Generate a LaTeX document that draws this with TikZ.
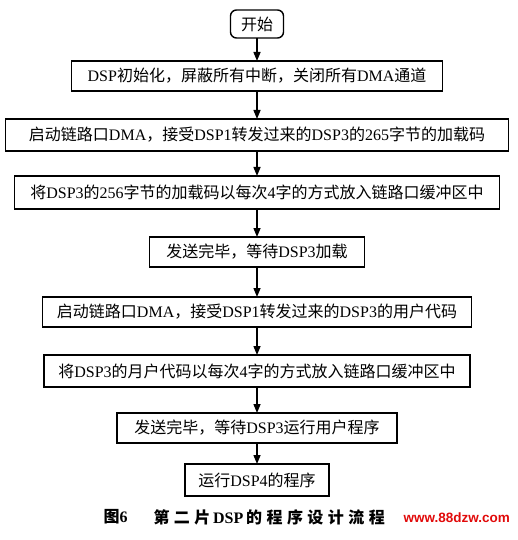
\documentclass[tikz,border=0pt]{standalone}
\usepackage{fontspec}
\setmainfont{Noto Sans CJK SC}
\newfontfamily\romfont{Liberation Serif}
\newfontfamily\capfont[LetterSpace=28]{Noto Sans CJK SC}
\newfontfamily\markfont{Liberation Sans}
\usetikzlibrary{positioning,arrows.meta}
\definecolor{markred}{RGB}{225,10,10}
\newcommand{\en}[1]{{\romfont #1}}
\tikzset{
  stepbox/.style={draw,line width=1.4pt,outer sep=0pt,minimum height=30pt,inner sep=0pt,font=\fontsize{16}{16}\selectfont},
  startbox/.style={stepbox,rounded corners=6pt},
  ar/.style={-{Triangle[length=9pt,width=7pt]},line width=1.4pt},
}
\begin{document}
\begin{tikzpicture}[x=1pt,y=-1pt]
  \useasboundingbox (0,0) rectangle (517,540);
  \node[startbox,minimum width=53pt,minimum height=28pt] (start) at (257,24) {开始};
  \node[stepbox,minimum width=371pt,below=23pt of start] (init) {\en{DSP}初始化，屏蔽所有中断，关闭所有\en{DMA}通道};
  \node[stepbox,minimum width=503pt,minimum height=32pt,below=28pt of init] (recvload) {启动链路口\en{DMA}，接受\en{DSP1}转发过来的\en{DSP3}的\en{265}字节的加载码};
  \node[stepbox,minimum width=485pt,minimum height=33pt,below=25pt of recvload] (putload) {将\en{DSP3}的\en{256}字节的加载码以每次\en{4}字的方式放入链路口缓冲区中};
  \node[stepbox,minimum width=215pt,below=28pt of putload] (waitload) {发送完毕，等待\en{DSP3}加载};
  \node[stepbox,minimum width=429pt,below=30pt of waitload] (recvuser) {启动链路口\en{DMA}，接受\en{DSP1}转发过来的\en{DSP3}的用户代码};
  \node[stepbox,minimum width=426pt,minimum height=32pt,below=28pt of recvuser] (putuser) {将\en{DSP3}的月户代码以每次\en{4}字的方式放入链路口缓冲区中};
  \node[stepbox,minimum width=280pt,below=26pt of putuser] (waitrun) {发送完毕，等待\en{DSP3}运行用户程序};
  \node[stepbox,minimum width=144pt,minimum height=32pt,below=21pt of waitrun] (rundsp) {运行\en{DSP4}的程序};
  % arrows
  \foreach \a/\b in {start/init,init/recvload,recvload/putload,putload/waitload,
                     waitload/recvuser,recvuser/putuser,putuser/waitrun,waitrun/rundsp}
    \draw[ar] (\a) -- (\b);
  % caption
  \node[anchor=west,font=\fontsize{16}{16}\selectfont\bfseries] (fignum) at (100,517) {图\en{\bfseries 6}};
  \node[anchor=west,font=\fontsize{16}{16}\selectfont\bfseries] (caption) at (150,517) {\capfont\bfseries 第二片\en{\bfseries\,DSP\,}的程序设计流程};
  \node[anchor=east,font=\markfont\fontsize{13.5}{13.5}\selectfont\bfseries,text=markred,inner sep=0pt] (mark) at (510,518) {www.88dzw.com};
\end{tikzpicture}
\end{document}
